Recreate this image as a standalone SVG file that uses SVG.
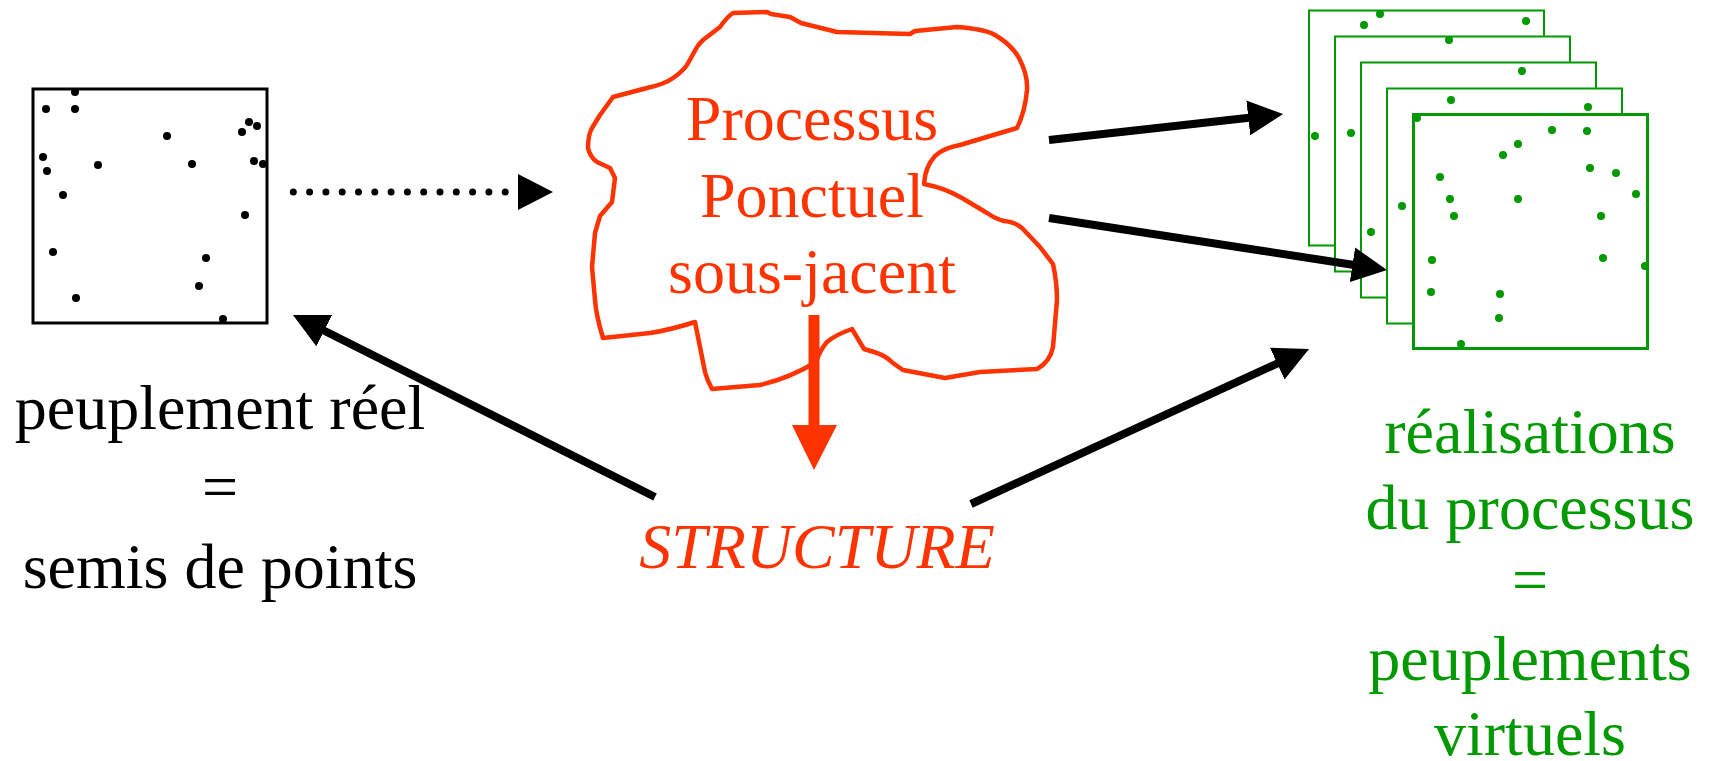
<svg xmlns="http://www.w3.org/2000/svg" width="1711" height="761" viewBox="0 0 1711 761">
  <style>
    .lbl { font-family: "Liberation Serif", "Times New Roman", serif; font-size: 64px; text-anchor: middle; }
    .blk { fill: #000000; }
    .red { fill: #FF3300; }
    .grn { fill: #009900; }
    .frame { fill: #ffffff; stroke: #000000; stroke-width: 3; }
    .gframe { fill: #ffffff; stroke: #009900; stroke-width: 2; }
    .gframe.front { stroke-width: 3; }
    .pt { fill: #000000; }
    .gpt { fill: #009900; }
    .link { stroke: #000000; stroke-width: 8; fill: none; marker-end: url(#head); }
  </style>
  <defs>
    <marker id="head" markerUnits="userSpaceOnUse" viewBox="0 0 35 35" markerWidth="35" markerHeight="35" refX="10" refY="17.5" orient="auto">
      <path d="M0,0 L35,17.5 L0,35 Z" fill="#000000"/>
    </marker>
  </defs>

  <rect width="1711" height="761" fill="#ffffff"/>

  <!-- observed stand: point pattern in a square window -->
  <g id="real-stand">
    <rect class="frame" x="33" y="89" width="234" height="234"/>
    <g>
      <circle class="pt" cx="75" cy="92" r="4"/>
      <circle class="pt" cx="46" cy="109" r="4"/>
      <circle class="pt" cx="75" cy="109" r="4"/>
      <circle class="pt" cx="249" cy="122" r="4"/>
      <circle class="pt" cx="257" cy="126" r="4"/>
      <circle class="pt" cx="242" cy="132" r="4"/>
      <circle class="pt" cx="167" cy="136" r="4"/>
      <circle class="pt" cx="43" cy="157" r="4"/>
      <circle class="pt" cx="47" cy="171" r="4"/>
      <circle class="pt" cx="98" cy="165" r="4"/>
      <circle class="pt" cx="192" cy="164" r="4"/>
      <circle class="pt" cx="254" cy="161" r="4"/>
      <circle class="pt" cx="263" cy="164" r="4"/>
      <circle class="pt" cx="63" cy="195" r="4"/>
      <circle class="pt" cx="245" cy="215" r="4"/>
      <circle class="pt" cx="53" cy="252" r="4"/>
      <circle class="pt" cx="206" cy="258" r="4"/>
      <circle class="pt" cx="199" cy="286" r="4"/>
      <circle class="pt" cx="76" cy="298" r="4"/>
      <circle class="pt" cx="223" cy="319" r="4"/>
    </g>
    <text class="lbl blk" x="220" y="429">peuplement réel</text>
    <text class="lbl blk" x="220" y="508">=</text>
    <text class="lbl blk" x="220" y="588">semis de points</text>
  </g>

  <!-- underlying point process: hand-drawn cloud -->
  <g id="process">
    <path d="M733,13 L767,12 L771,14 L790,17 L801,23 L837,32 L910,34 L915,31 L957,27
             Q985,29 995,35 Q1012,45 1019,58 Q1028,75 1027,90 Q1025,112 1017,128
             L960,145 Q943,148 935,156 Q925,167 924,184
             Q945,188 962,198 L987,213 Q996,219 1004,221 Q1015,222 1022,228
             L1040,247 L1053,264 Q1057,282 1057,300 L1053,347 Q1050,362 1037,369
             L980,372 L945,378 L903,370 Q897,366 893,363 Q885,355 874,352 L864,349 L852,329
             Q835,335 827,342 Q820,350 816,362 Q790,378 760,385 L712,389
             Q707,380 705,372 L695,322 Q670,330 650,333 L603,338
             Q596,315 595,300 L592,267 L595,233 L600,216 L612,202 L615,178 L610,168
             L597,162 Q590,157 588,148 Q588,135 592,128 L600,115 L613,97
             L647,88 Q665,84 673,78 Q682,72 687,65 L697,47 Q702,40 707,37
             L720,27 Q727,17 733,13 Z"
          fill="none" stroke="#FF3300" stroke-width="4.5" stroke-linejoin="round"/>
    <text class="lbl red" x="812" y="140">Processus</text>
    <text class="lbl red" x="812" y="217">Ponctuel</text>
    <text class="lbl red" x="812" y="293">sous-jacent</text>
  </g>

  <!-- structure label -->
  <g id="structure">
    <text class="lbl red" x="817" y="568" font-style="italic">STRUCTURE</text>
  </g>

  <!-- simulated realisations: stacked windows -->
  <g id="realisations">
    <g>
      <rect class="gframe" x="1309" y="10.5" width="235" height="235"/>
      <circle class="gpt" cx="1380" cy="14" r="4"/>
      <circle class="gpt" cx="1364" cy="25" r="4"/>
      <circle class="gpt" cx="1526" cy="21" r="4"/>
      <circle class="gpt" cx="1315" cy="136" r="4"/>
    </g>
    <g>
      <rect class="gframe" x="1335" y="36.5" width="235" height="235"/>
      <circle class="gpt" cx="1449" cy="40" r="4"/>
      <circle class="gpt" cx="1351" cy="133" r="4"/>
    </g>
    <g>
      <rect class="gframe" x="1361" y="62.5" width="235" height="235"/>
      <circle class="gpt" cx="1522" cy="71" r="4"/>
      <circle class="gpt" cx="1371" cy="232" r="4"/>
    </g>
    <g>
      <rect class="gframe" x="1387" y="88.5" width="235" height="235"/>
      <circle class="gpt" cx="1451" cy="100" r="4"/>
      <circle class="gpt" cx="1588" cy="107" r="4"/>
      <circle class="gpt" cx="1402" cy="206" r="4"/>
    </g>
    <g>
      <rect class="gframe front" x="1413.5" y="114.5" width="234" height="234"/>
      <circle class="gpt" cx="1417" cy="118" r="4"/>
      <circle class="gpt" cx="1552" cy="130" r="4"/>
      <circle class="gpt" cx="1587" cy="131" r="4"/>
      <circle class="gpt" cx="1518" cy="144" r="4"/>
      <circle class="gpt" cx="1503" cy="155" r="4"/>
      <circle class="gpt" cx="1590" cy="168" r="4"/>
      <circle class="gpt" cx="1616" cy="173" r="4"/>
      <circle class="gpt" cx="1440" cy="177" r="4"/>
      <circle class="gpt" cx="1636" cy="194" r="4"/>
      <circle class="gpt" cx="1450" cy="199" r="4"/>
      <circle class="gpt" cx="1518" cy="199" r="4"/>
      <circle class="gpt" cx="1454" cy="216" r="4"/>
      <circle class="gpt" cx="1601" cy="216" r="4"/>
      <circle class="gpt" cx="1432" cy="260" r="4"/>
      <circle class="gpt" cx="1603" cy="258" r="4"/>
      <circle class="gpt" cx="1645" cy="266" r="4"/>
      <circle class="gpt" cx="1431" cy="292" r="4"/>
      <circle class="gpt" cx="1500" cy="294" r="4"/>
      <circle class="gpt" cx="1499" cy="318" r="4"/>
      <circle class="gpt" cx="1461" cy="344" r="4"/>
    </g>
    <text class="lbl grn" x="1530" y="453">réalisations</text>
    <text class="lbl grn" x="1530" y="529">du processus</text>
    <text class="lbl grn" x="1530" y="601">=</text>
    <text class="lbl grn" x="1530" y="680">peuplements</text>
    <text class="lbl grn" x="1530" y="755">virtuels</text>
  </g>

  <!-- connectors -->
  <g id="connectors">
    <!-- dotted inference arrow -->
    <path d="M293.3,192 H505.2" stroke="#000000" stroke-width="7" stroke-linecap="round" stroke-dasharray="0 16.3" fill="none"/>
    <path d="M518,174 L553,192 L518,210 Z" fill="#000000"/>
    <!-- process to realisations -->
    <path class="link" d="M1049,140 L1258.2,116.8"/>
    <path class="link" d="M1049,218 L1362.3,266.2"/>
    <!-- structure to both patterns -->
    <path class="link" d="M655,497 L315.3,326.2"/>
    <path class="link" d="M971,504 L1286.3,359.4"/>
    <!-- process to structure -->
    <path d="M814,315 V426" stroke="#FF3300" stroke-width="11" fill="none"/>
    <path d="M792,425 L837,425 L814,470 Z" fill="#FF3300"/>
  </g>
</svg>
